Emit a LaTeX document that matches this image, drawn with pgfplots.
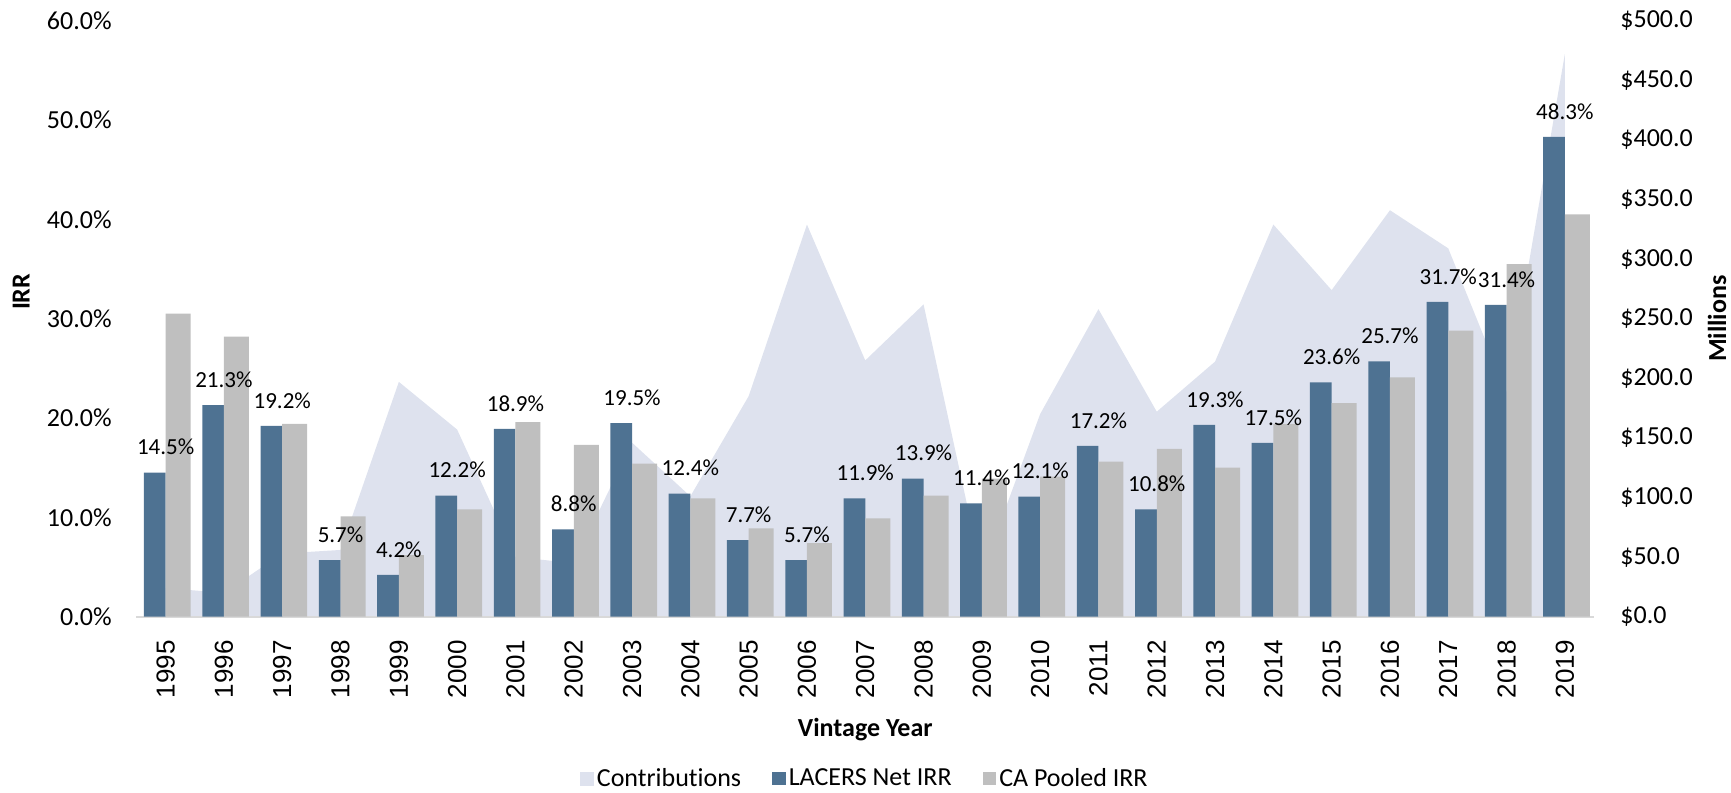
\documentclass[border=0pt]{standalone}
\usepackage{pgfplots}
\pgfplotsset{compat=1.18}
\usepackage{pgfplotstable}
\usepackage{fontspec}
\setmainfont{Carlito}[Ligatures={NoCommon}]
\newfontfamily\yearfont{Liberation Sans}
\definecolor{lacers}{HTML}{4E7292}
\definecolor{capool}{HTML}{BFBFBF}
\definecolor{contrib}{HTML}{DEE2EE}
\definecolor{baseln}{HTML}{D9D9D9}

\pgfplotstableread{
x year lacers ca contrib
0 1995 14.5 30.5 24
1 1996 21.3 28.2 20
2 1997 19.2 19.4 53
3 1998 5.7 10.1 56
4 1999 4.2 6.2 197
5 2000 12.2 10.8 157
6 2001 18.9 19.6 50
7 2002 8.8 17.3 45
8 2003 19.5 15.4 146
9 2004 12.4 11.9 101
10 2005 7.7 8.9 185
11 2006 5.7 7.4 329
12 2007 11.9 9.9 215
13 2008 13.9 12.2 262
14 2009 11.4 13.9 37
15 2010 12.1 14.1 170
16 2011 17.2 15.6 258
17 2012 10.8 16.9 172
18 2013 19.3 15.0 214
19 2014 17.5 19.4 329
20 2015 23.6 21.5 274
21 2016 25.7 24.1 341
22 2017 31.7 28.8 309
23 2018 31.4 35.5 188
24 2019 48.3 40.5 472
}\datatable

\begin{document}
\begin{tikzpicture}
\path[use as bounding box] (-68.25pt,-88.15pt) rectangle (797.25pt,308.35pt);
\pgfplotsset{
  /pgf/number format/assume math mode=true,
  commonax/.style={
    width=728.75pt, height=298pt, scale only axis,
    at={(0pt,0pt)}, anchor=south west,
    xmin=-0.5, xmax=24.5,
    major tick length=0pt,
    tick style={draw=none},
  },
}
% Contributions (right axis) drawn first, behind bars
\begin{axis}[commonax,
  ymin=0, ymax=500,
  axis x line=none,
  axis y line*=right,
  y axis line style={draw=none},
  ytick={0,50,...,500},
  yticklabel={\$\pgfmathprintnumber[fixed,fixed zerofill,precision=1]{\tick}},
  yticklabel style={font=\fontsize{13}{15}\selectfont, anchor=west, inner xsep=13pt, inner ysep=0pt},
  ylabel={\bfseries Millions},
  every axis y label/.style={at={(axis description cs:1.0844,0.50)}, rotate=90, anchor=center, font=\fontsize{13}{15}\selectfont},
]
\addplot[fill=contrib, draw=none] table[x=x, y=contrib] {\datatable} \closedcycle;
\end{axis}
% Bars (left axis)
\begin{axis}[commonax,
  ymin=0, ymax=60,
  axis x line*=bottom,
  axis y line*=left,
  x axis line style={draw=baseln, line width=1.2pt},
  y axis line style={draw=none},
  ytick={0,10,...,60},
  yticklabel={\pgfmathprintnumber[fixed,fixed zerofill,precision=1]{\tick}\%},
  yticklabel style={font=\fontsize{13}{15}\selectfont, anchor=east, inner xsep=12.25pt, inner ysep=0pt},
  xtick={0,...,24},
  xticklabels={1995,1996,1997,1998,1999,2000,2001,2002,2003,2004,2005,2006,2007,2008,2009,2010,2011,2012,2013,2014,2015,2016,2017,2018,2019},
  xticklabel style={font=\yearfont\fontsize{13}{15}\selectfont, rotate=90, anchor=east, inner xsep=11.7pt, inner ysep=0pt},
  ylabel={\bfseries IRR},
  every axis y label/.style={at={(axis description cs:-0.0792,0.545)}, rotate=90, anchor=center, font=\fontsize{13}{15}\selectfont},
  xlabel={\bfseries Vintage Year},
  every axis x label/.style={at={(axis description cs:0.5,-0.19)}, anchor=center, font=\fontsize{13}{15}\selectfont},
  legend columns=3,
  legend style={at={(axis description cs:0.5,-0.272)}, anchor=center, draw=none, fill=none,
    font=\fontsize{13}{15}\selectfont, inner sep=0pt,
    nodes={inner sep=1.6pt},
    /tikz/every even column/.append style={column sep=14pt}},
  legend cell align=left,
]
\addlegendimage{legend image code/.code={\fill[contrib] (0pt,-3.3pt) rectangle (6.6pt,3.3pt);}}
\addlegendentry{Contributions}
\addplot[ybar, bar width=10.85pt, bar shift=-5.42pt, fill=lacers, draw=none,
  nodes near coords={\pgfmathprintnumber[fixed,fixed zerofill,precision=1]{\pgfplotspointmeta}\%},
  every node near coord/.append style={font=\fontsize{11.5}{13}\selectfont, anchor=base, yshift=8.85pt, inner sep=0pt, text=black},
  legend image code/.code={\fill[lacers] (0pt,-3.3pt) rectangle (6.6pt,3.3pt);}]
  table[x=x, y=lacers] {\datatable};
\addlegendentry{LACERS Net IRR}
\addplot[ybar, bar width=12.5pt, bar shift=6.25pt, fill=capool, draw=none,
  legend image code/.code={\fill[capool] (0pt,-3.3pt) rectangle (6.6pt,3.3pt);}]
  table[x=x, y=ca] {\datatable};
\addlegendentry{CA Pooled IRR}
\end{axis}
\end{tikzpicture}
\end{document}
